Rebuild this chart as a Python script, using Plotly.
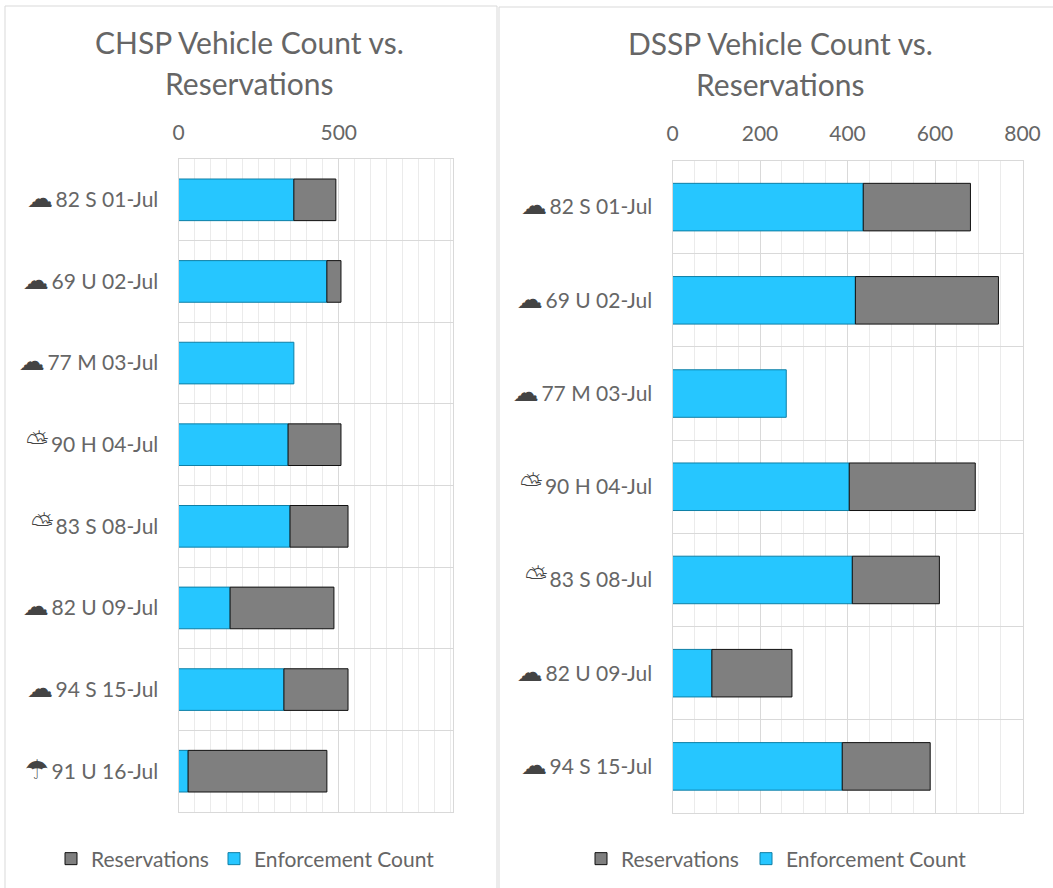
import plotly.graph_objects as go

ICON = "<span style=\"font-family:'DejaVu Sans';font-size:%dpx;color:#444444\">%s</span>\u2009"
CLOUD, PARTLY, UMBRELLA = ICON % (26, "☁"), ICON % (28, "⛅\uFE0E"), ICON % (27, "☂\uFE0E")

left_labels = [CLOUD + "82 S 01-Jul", CLOUD + "69 U 02-Jul", CLOUD + "77 M 03-Jul", PARTLY + "90 H 04-Jul",
               PARTLY + "83 S 08-Jul", CLOUD + "82 U 09-Jul", CLOUD + "94 S 15-Jul", UMBRELLA + "91 U 16-Jul"]
left_enforcement = [360, 463, 360, 342, 348, 161, 329, 30]
left_reservations = [131, 44, None, 165, 181, 324, 200, 433]

right_labels = left_labels[:7]
right_enforcement = [436, 418, 260, 404, 411, 90, 388]
right_reservations = [245, 327, None, 288, 199, 183, 201]

W, H = 1053, 888
GRAY = "#666666"
FONT = "Lato, 'DejaVu Sans'"
BLUE, BLUE_LINE = "#26C6FF", "#0E7FA6"
RES, RES_LINE = "#7F7F7F", "#111111"

fig = go.Figure()


def add_panel(suffix, labels, enforcement, reservations, leg_res, leg_enf):
    xa, ya = "x" + suffix, "y" + suffix
    fig.add_trace(go.Bar(y=labels, x=enforcement, name="Enforcement Count", orientation="h",
                         marker=dict(color=BLUE, line=dict(color=BLUE_LINE, width=1)),
                         xaxis=xa, yaxis=ya, legend=leg_enf))
    fig.add_trace(go.Bar(y=labels, x=reservations, name="Reservations", orientation="h",
                         base=enforcement,
                         marker=dict(color=RES, line=dict(color=RES_LINE, width=1)),
                         xaxis=xa, yaxis=ya, legend=leg_res))


add_panel("", left_labels, left_enforcement, left_reservations, "legend", "legend2")
add_panel("2", right_labels, right_enforcement, right_reservations, "legend3", "legend4")


def px_x(v):
    return v / W


def px_y(v):
    return 1 - v / H


def xaxis(dom, rng, dtick, anchor):
    return dict(domain=[px_x(dom[0]), px_x(dom[1])], range=rng, side="top", dtick=dtick, tick0=0,
                anchor=anchor, showgrid=True, gridcolor="#D9D9D9", gridwidth=1,
                minor=dict(dtick=50, tick0=0, showgrid=True, gridcolor="#EBEBEB", gridwidth=1),
                showline=True, mirror=True, linecolor="#D9D9D9", zeroline=False, ticks="",
                ticklabelstandoff=10, tickfont=dict(family=FONT, size=21, color=GRAY),
                fixedrange=True)


def yaxis(dom, anchor):
    return dict(domain=[px_y(dom[1]), px_y(dom[0])], autorange="reversed", type="category",
                anchor=anchor, tickson="boundaries", showgrid=True, gridcolor="#D9D9D9",
                gridwidth=1, showline=True, linecolor="#D9D9D9", mirror=True, ticks="",
                ticklabelstandoff=15, tickfont=dict(family=FONT, size=21, color=GRAY),
                fixedrange=True)


def title_line(text, x, y):
    return dict(text=text, xref="paper", yref="paper", x=px_x(x), y=px_y(y), xanchor="center",
                yanchor="middle", showarrow=False, font=dict(family=FONT, size=30, color=GRAY))


def legend_at(x):
    return dict(orientation="h", x=px_x(x), xanchor="left", y=px_y(859), yanchor="middle",
                font=dict(family=FONT, size=21, color=GRAY), itemwidth=30,
                bgcolor="rgba(0,0,0,0)")


fig.update_layout(
    width=W, height=H, margin=dict(l=0, r=0, t=0, b=0, autoexpand=False),
    paper_bgcolor="white", plot_bgcolor="white", barmode="overlay", showlegend=True,
    xaxis=xaxis((178.5, 452.5), [0, 855], 500, "y"),
    yaxis=yaxis((159, 812), "x"),
    xaxis2=xaxis((672.5, 1022.5), [0, 800], 200, "y2"),
    yaxis2=yaxis((160.5, 813), "x2"),
    bargap=0.49,
    legend=legend_at(51),
    legend2=legend_at(214),
    legend3=legend_at(581),
    legend4=legend_at(746),
    shapes=[
        dict(type="rect", xref="paper", yref="paper", x0=px_x(5), x1=px_x(497),
             y0=px_y(6), y1=px_y(900), line=dict(color="#D9D9D9", width=1), layer="below"),
        dict(type="rect", xref="paper", yref="paper", x0=px_x(499), x1=px_x(1060),
             y0=px_y(7), y1=px_y(900), line=dict(color="#D9D9D9", width=1), layer="below"),
    ],
    annotations=[
        title_line("CHSP Vehicle Count vs.", 249, 42),
        title_line("Reservations", 249, 83),
        title_line("DSSP Vehicle Count vs.", 780, 43),
        title_line("Reservations", 780, 84),
    ],
)

fig.write_html("out.html", post_script="document.body.style.margin='0';",
               config=dict(displayModeBar=False))
